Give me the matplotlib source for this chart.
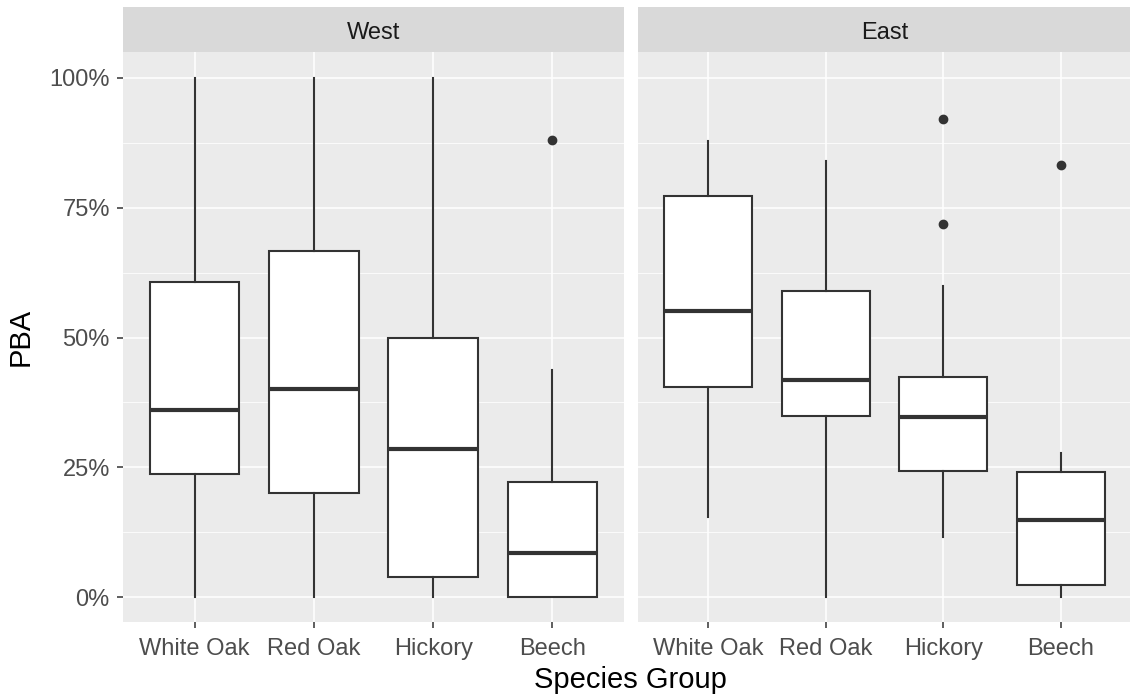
import matplotlib.pyplot as plt
from matplotlib.ticker import PercentFormatter

plt.rcParams['font.family'] = ['Arial', 'Liberation Sans', 'DejaVu Sans']

# Box summaries (percent of basal area)
species = ['White Oak', 'Red Oak', 'Hickory', 'Beech']
regions = ['West', 'East']

west_low = [0, 0, 0, 0]
west_q1 = [23.8, 20.0, 3.9, 0.0]
west_med = [36.0, 40.0, 28.6, 8.5]
west_q3 = [60.6, 66.7, 50.0, 22.2]
west_high = [100, 100, 100, 43.8]
west_out = [[], [], [], [88.0]]

east_low = [15.4, 0, 11.6, 0]
east_q1 = [40.5, 34.9, 24.3, 2.3]
east_med = [55.1, 41.9, 34.7, 14.8]
east_q3 = [77.3, 59.0, 42.3, 24.1]
east_high = [87.9, 84.0, 59.9, 27.8]
east_out = [[], [], [92.0, 71.9], [83.3]]

data = {
    'West': (west_low, west_q1, west_med, west_q3, west_high, west_out),
    'East': (east_low, east_q1, east_med, east_q3, east_high, east_out),
}

fig = plt.figure(figsize=(11.3, 6.94), dpi=100)
W, H = 1130, 694
panels = {'West': (123, 624), 'East': (638, 1131)}
top, bottom, strip_top = 52, 622, 7

line_col = '#333333'
for reg in regions:
    x0, x1 = panels[reg]
    ax = fig.add_axes([x0 / W, 1 - bottom / H, (x1 - x0) / W, (bottom - top) / H])
    low, q1, med, q3, high, out = data[reg]
    stats = []
    for i, sp in enumerate(species):
        stats.append(dict(label=sp, whislo=low[i], q1=q1[i], med=med[i],
                          q3=q3[i], whishi=high[i], fliers=out[i]))
    ax.set_facecolor('#EBEBEB')
    ax.set_axisbelow(True)
    ax.grid(True, which='major', color='white', linewidth=1.1)
    ax.grid(True, which='minor', axis='y', color='white', linewidth=0.55)
    ax.bxp(stats, positions=[1, 2, 3, 4], widths=0.75, patch_artist=True,
           showcaps=False,
           boxprops=dict(facecolor='white', edgecolor=line_col, linewidth=1.5),
           medianprops=dict(color=line_col, linewidth=3),
           whiskerprops=dict(color=line_col, linewidth=1.5),
           flierprops=dict(marker='o', markerfacecolor=line_col,
                           markeredgecolor=line_col, markersize=6))
    ax.set_xlim(0.4, 4.6)
    ax.set_ylim(-4.8, 105.0)
    ax.set_yticks([0, 25, 50, 75, 100])
    ax.set_yticks([12.5, 37.5, 62.5, 87.5], minor=True)
    ax.yaxis.set_major_formatter(PercentFormatter(decimals=0))
    ax.set_xticks([1, 2, 3, 4])
    ax.set_xticklabels(species)
    ax.tick_params(axis='both', which='major', colors='#333333', length=4.5,
                   width=1.1, labelsize=17, labelcolor='#4D4D4D', pad=5)
    ax.tick_params(axis='x', which='major', pad=7)
    ax.tick_params(axis='y', which='minor', length=0)
    for s in ax.spines.values():
        s.set_visible(False)
    if reg == 'East':
        ax.tick_params(axis='y', which='both', left=False, labelleft=False)
    # facet strip
    sax = fig.add_axes([x0 / W, 1 - top / H, (x1 - x0) / W, (top - strip_top) / H])
    sax.set_facecolor('#D9D9D9')
    sax.set_xticks([])
    sax.set_yticks([])
    for s in sax.spines.values():
        s.set_visible(False)
    sax.text(0.5, 0.42, reg, ha='center', va='center', fontsize=17,
             color='#1A1A1A', transform=sax.transAxes)

fig.text(630 / W, 1 - 680 / H, 'Species Group', ha='center', va='center',
         fontsize=21, color='black')
fig.text(21 / W, 1 - 337 / H, 'PBA', ha='center', va='center',
         rotation=90, fontsize=21, color='black')

fig.savefig('out.png', dpi=100)
